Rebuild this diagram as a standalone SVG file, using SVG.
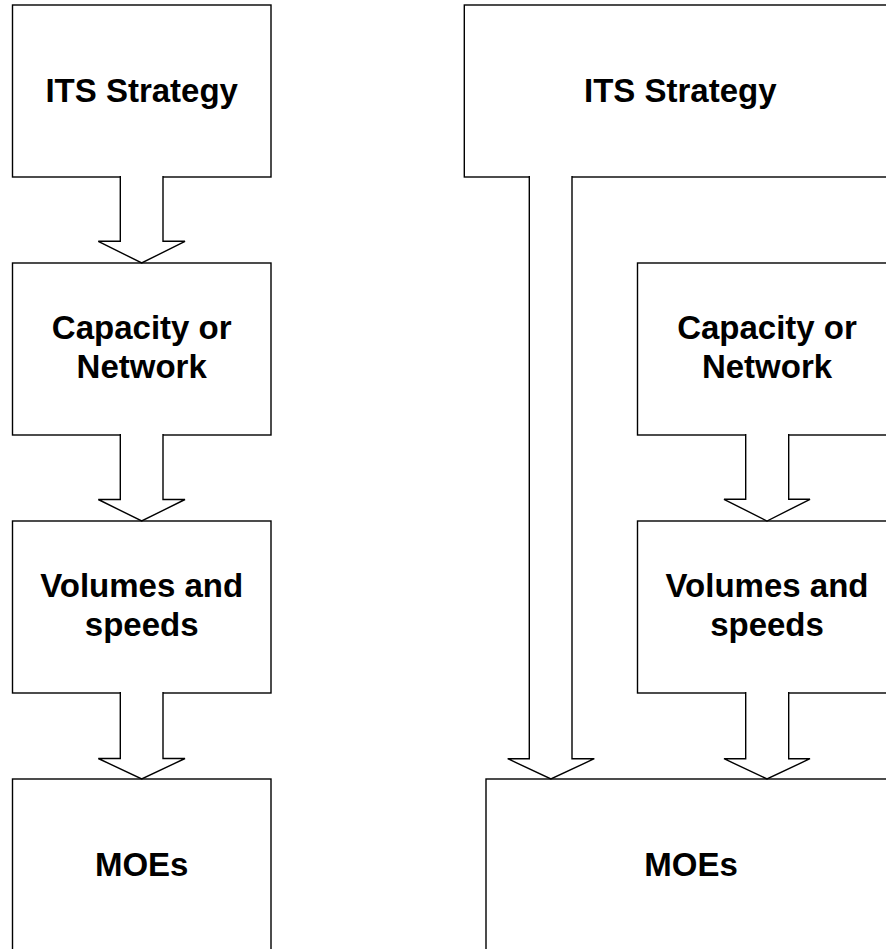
<svg xmlns="http://www.w3.org/2000/svg" width="886" height="949" viewBox="0 0 886 949">
<style>
.box{fill:#fff;stroke:#000;stroke-width:1.4}
.arr{fill:#fff;stroke:#000;stroke-width:1.4;stroke-linejoin:miter}
.lbl{font-family:"Liberation Sans",Arial,sans-serif;font-weight:bold;font-size:33px;fill:#000;text-anchor:middle}
</style>
<rect width="886" height="949" fill="#fff"/>
<g id="left-its"><rect class="box" x="12.5" y="5" width="258.5" height="172"/><text class="lbl" x="141.7" y="101.7">ITS Strategy</text></g>
<g id="left-capacity"><rect class="box" x="12.5" y="263" width="258.5" height="172"/><text class="lbl" x="141.7" y="339.3">Capacity or</text><text class="lbl" x="141.7" y="378.3">Network</text></g>
<g id="left-volumes"><rect class="box" x="12.5" y="521" width="258.5" height="172"/><text class="lbl" x="141.7" y="597.3">Volumes and</text><text class="lbl" x="141.7" y="636">speeds</text></g>
<g id="left-moes"><rect class="box" x="12.5" y="779" width="258.5" height="172"/><text class="lbl" x="141.7" y="875.7">MOEs</text></g>
<g id="right-its"><rect class="box" x="464.3" y="5" width="432" height="172"/><text class="lbl" x="680.3" y="101.7">ITS Strategy</text></g>
<g id="right-capacity"><rect class="box" x="637.5" y="263" width="259" height="172"/><text class="lbl" x="767" y="339.3">Capacity or</text><text class="lbl" x="767" y="378.3">Network</text></g>
<g id="right-volumes"><rect class="box" x="637.5" y="521" width="259" height="172"/><text class="lbl" x="767" y="597.3">Volumes and</text><text class="lbl" x="767" y="636">speeds</text></g>
<g id="right-moes"><rect class="box" x="486" y="779" width="410" height="172"/><text class="lbl" x="691" y="875.7">MOEs</text></g>
<g id="connectors">
<polyline class="arr" points="120.3,176 120.3,241.3 98.3,241.3 141.7,263 185,241.3 163,241.3 163,176"/>
<polyline class="arr" points="120.3,434 120.3,499.5 98.3,499.5 141.7,521 185,499.5 163,499.5 163,434"/>
<polyline class="arr" points="120.3,692 120.3,758.5 98.3,758.5 141.7,779 185,758.5 163,758.5 163,692"/>
<polyline class="arr" points="529.3,176 529.3,758.7 507.7,758.7 550.9,779 594.3,758.7 572,758.7 572,176"/>
<polyline class="arr" points="745.7,434 745.7,499.3 724,499.3 767,521 810,499.3 788.7,499.3 788.7,434"/>
<polyline class="arr" points="745.7,692 745.7,758.7 724,758.7 767,779 810,758.7 788.7,758.7 788.7,692"/>
</g>
</svg>
